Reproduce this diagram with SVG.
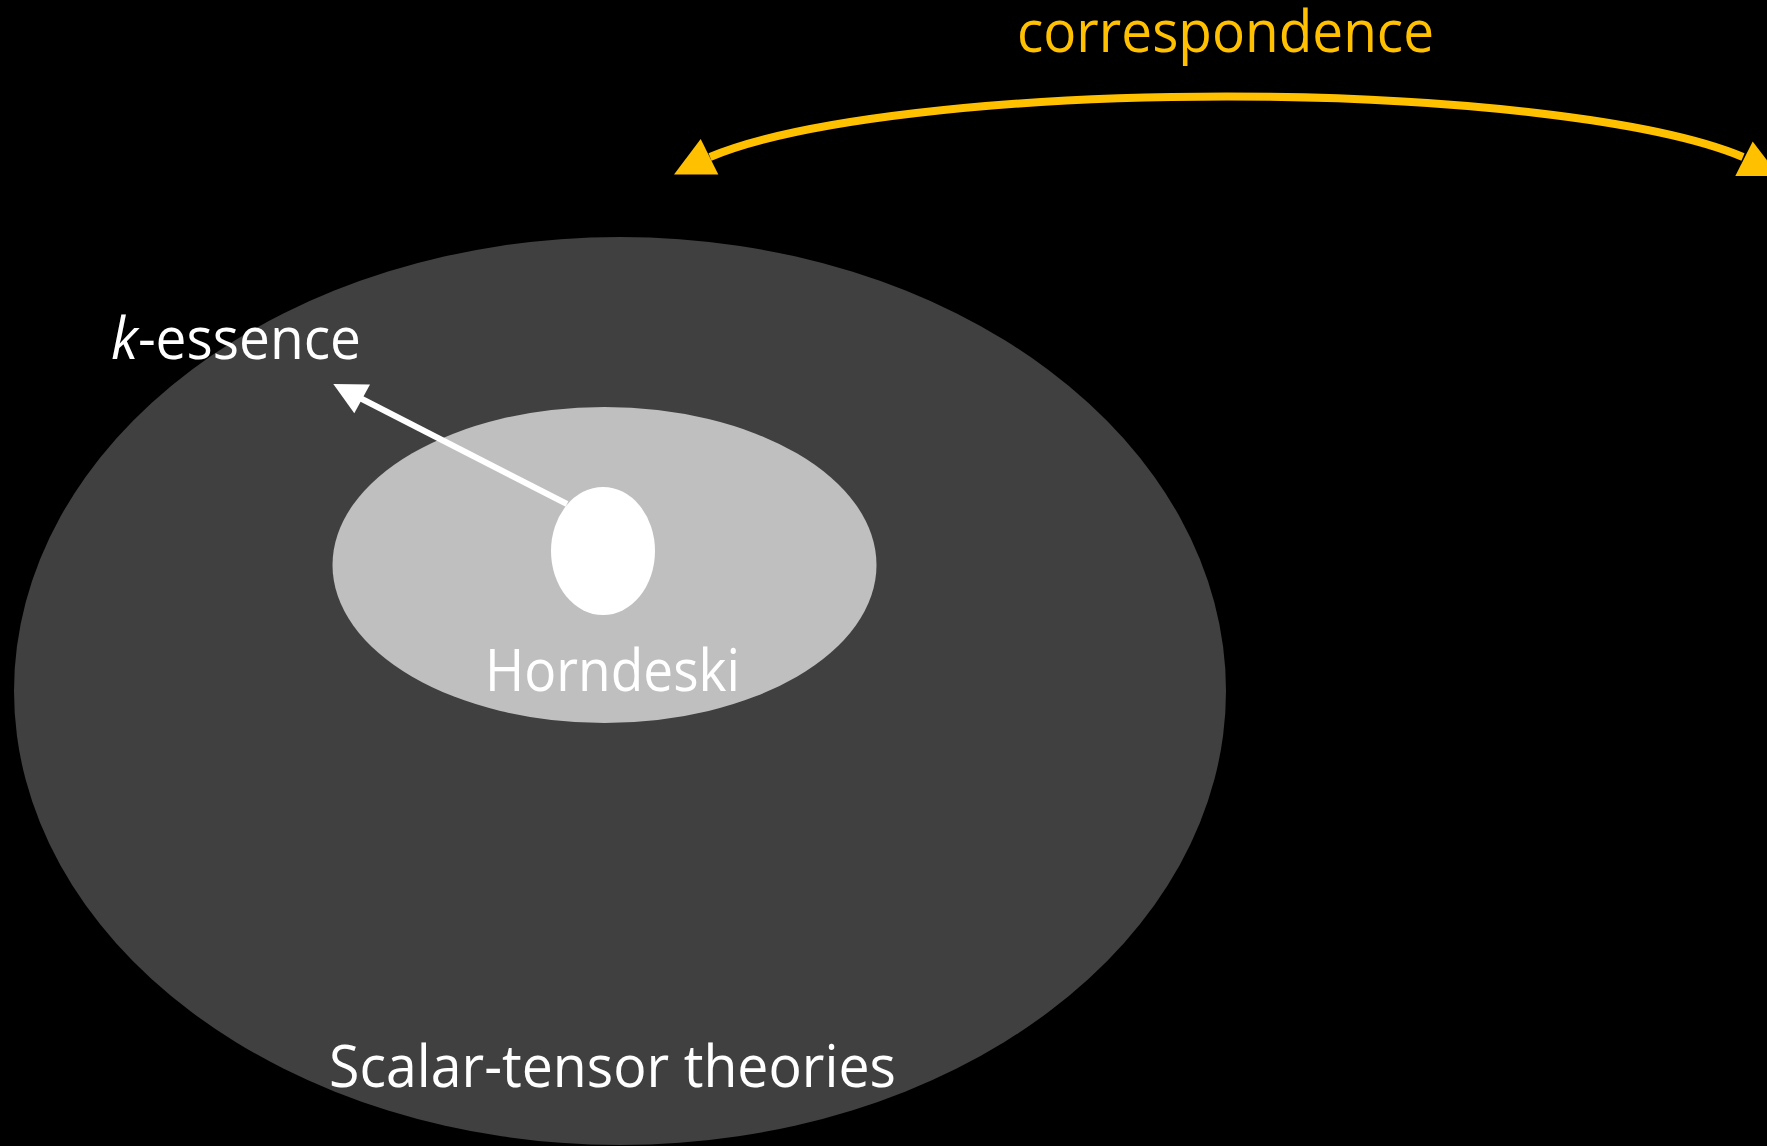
<svg xmlns="http://www.w3.org/2000/svg" width="1767" height="1146" viewBox="0 0 1767 1146">
  <defs>
    <style>
      .lbl { font-family: "Open Sans", "Liberation Sans", sans-serif; font-size: 58px; }
      .white { fill: #FFFFFF; }
      .gold { fill: #FFC000; }
    </style>
  </defs>
  <rect x="0" y="0" width="1767" height="1146" fill="#000000"/>
  <g id="scalar-tensor">
    <ellipse cx="620" cy="691" rx="606" ry="454" fill="#404040"/>
    <text class="lbl white" x="329" y="1087" textLength="567" lengthAdjust="spacingAndGlyphs">Scalar-tensor theories</text>
  </g>
  <g id="horndeski">
    <ellipse cx="604.5" cy="565" rx="272" ry="158" fill="#BFBFBF"/>
    <text class="lbl white" x="485" y="691" textLength="255" lengthAdjust="spacingAndGlyphs">Horndeski</text>
  </g>
  <g id="inner">
    <ellipse cx="603" cy="551" rx="52" ry="64" fill="#FFFFFF"/>
  </g>
  <g id="k-essence">
    <text class="lbl white" x="111" y="359" textLength="250" lengthAdjust="spacingAndGlyphs"><tspan font-style="italic">k</tspan>-essence</text>
  </g>
  <g id="correspondence">
    <text class="lbl gold" x="1017" y="52" textLength="417" lengthAdjust="spacingAndGlyphs">correspondence</text>
  </g>
  <g id="connectors">
    <path d="M710,157 A560,98.6 0 0 1 1743,157" fill="none" stroke="#FFC000" stroke-width="8"/>
    <polygon points="700.7,139 674,174.5 718.3,174.5" fill="#FFC000"/>
    <polygon points="1752.7,141.5 1735.3,176 1779,176" fill="#FFC000"/>
    <line x1="567" y1="504" x2="360" y2="398" stroke="#FFFFFF" stroke-width="6"/>
    <polygon points="333.3,384 370,384.5 354.3,413.3" fill="#FFFFFF"/>
  </g>
</svg>
